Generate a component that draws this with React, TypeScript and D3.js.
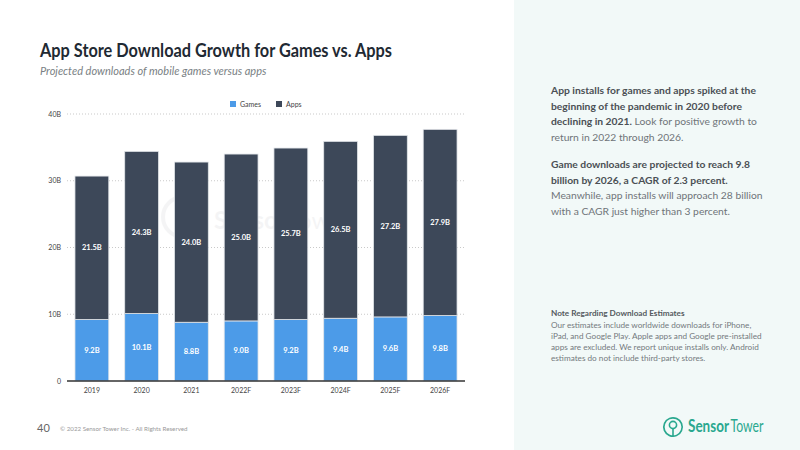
import React from "react";
import * as d3 from "d3";

const years = ["2019", "2020", "2021", "2022F", "2023F", "2024F", "2025F", "2026F"];
const games = [9.2, 10.1, 8.8, 9.0, 9.2, 9.4, 9.6, 9.8];
const apps = [21.5, 24.3, 24.0, 25.0, 25.7, 26.5, 27.2, 27.9];
const yTicks = [0, 10, 20, 30, 40];
const seriesNames = ["Games", "Apps"];
const seriesColors = ["#4c9be8", "#3d4859"];

const sideIntro = [
  [{ t: "App installs for games and apps spiked at the", b: true }],
  [{ t: "beginning of the pandemic in 2020 before", b: true }],
  [{ t: "declining in 2021.", b: true }, { t: " Look for positive growth to", b: false }],
  [{ t: "return in 2022 through 2026.", b: false }],
];
const sideOutlook = [
  [{ t: "Game downloads are projected to reach 9.8", b: true }],
  [{ t: "billion by 2026, a CAGR of 2.3 percent.", b: true }],
  [{ t: "Meanwhile, app installs will approach 28 billion", b: false }],
  [{ t: "with a CAGR just higher than 3 percent.", b: false }],
];
const noteTitle = "Note Regarding Download Estimates";
const noteLines = [
  "Our estimates include worldwide downloads for iPhone,",
  "iPad, and Google Play. Apple apps and Google pre-installed",
  "apps are excluded. We report unique installs only. Android",
  "estimates do not include third-party stores.",
];

const W = 800;
const H = 450;
const FONT = "Lato, 'Noto Sans', sans-serif";
const TEAL = "#2aa88f";

export default function App() {
  const x = d3.scaleBand().domain(years).range([67, 465]).paddingInner(0.32).paddingOuter(0.16);
  const y = d3.scaleLinear().domain([0, 40]).range([381, 114]);

  const rows = years.map((yr, i) => ({ year: yr, games: games[i], apps: apps[i] }));
  const stacked = d3.stack<any>().keys(["games", "apps"])(rows);

  const fmt = (v: number) => `${v.toFixed(1)}B`;

  // open ring of the logo mark, gap at the bottom
  const ring = d3.arc()({ innerRadius: 8.3, outerRadius: 10, startAngle: Math.PI * 0.88, endAngle: Math.PI * 3.12 }) as string;

  const renderLines = (lines: { t: string; b: boolean }[][], y0: number) =>
    lines.map((line, i) => (
      <text key={i} x={551} y={y0 + i * 15.5} fontSize={10.3} fontFamily={FONT}>
        {line.map((s, j) => (
          <tspan key={j} fontWeight={s.b ? 700 : 400} fill={s.b ? "#4b5055" : "#6f7479"}>
            {s.t}
          </tspan>
        ))}
      </text>
    ));

  return (
    <svg
      width={W}
      height={H}
      style={{ display: "block", position: "absolute", left: 0, top: 0 }}
      fontFamily={FONT}
    >
      <rect width={W} height={H} fill="#ffffff" />
      <rect x={514} width={W - 514} height={H} fill="#f2f9f8" />

      {/* title */}
      <text x={40} y={57} fontSize={19} fontWeight={700} fill="#1f2a33" textLength={352} lengthAdjust="spacingAndGlyphs">
        App Store Download Growth for Games vs. Apps
      </text>
      <text x={40} y={75} fontSize={11} fontStyle="italic" fill="#7a7f84">
        Projected downloads of mobile games versus apps
      </text>

      {/* watermark */}
      <g opacity={0.05} fill="#3d4859" stroke="#3d4859">
        <circle cx={183} cy={217} r={20} fill="none" strokeWidth={4} />
        <circle cx={183} cy={212} r={6} fill="none" strokeWidth={3.5} />
        <line x1={183} x2={183} y1={217} y2={232} strokeWidth={3.5} />
        <text x={214} y={229} fontSize={24} stroke="none" fontWeight={700}>
          Sensor<tspan fontWeight={400}>Tower</tspan>
        </text>
      </g>

      {/* grid + y ticks */}
      {yTicks.map((t) => (
        <g key={t}>
          {t > 0 && (
            <line x1={67} x2={465} y1={y(t)} y2={y(t)} stroke="#c9c9c9" strokeWidth={1} strokeDasharray="1 2" />
          )}
          <text x={61} y={y(t) + 2.5} fontSize={7} textAnchor="end" fill="#444">
            {t === 0 ? "0" : `${t}B`}
          </text>
        </g>
      ))}

      {/* legend */}
      {seriesNames.map((n, i) => (
        <g key={n} transform={`translate(${230 + i * 46},101)`}>
          <rect width={6} height={6} fill={seriesColors[i]} />
          <text x={10} y={5.5} fontSize={7} fill="#444">
            {n}
          </text>
        </g>
      ))}

      {/* bars */}
      {stacked.map((s, si) => (
        <g key={s.key}>
          {s.map((d, i) => (
            <g key={i}>
              <rect
                x={x(years[i])}
                y={y(d[1])}
                width={x.bandwidth()}
                height={y(d[0]) - y(d[1])}
                fill={seriesColors[si]}
                stroke="#e3e6ea"
                strokeWidth={0.8}
              />
              <text
                x={(x(years[i]) as number) + x.bandwidth() / 2}
                y={(y(d[0]) + y(d[1])) / 2 + 2.5}
                fontSize={7.5}
                fontWeight={700}
                fill="#ffffff"
                textAnchor="middle"
              >
                {fmt(d[1] - d[0])}
              </text>
            </g>
          ))}
        </g>
      ))}

      {/* x axis */}
      <line x1={67} x2={465} y1={381} y2={381} stroke="#333" strokeWidth={1.5} />
      {years.map((yr) => (
        <text
          key={yr}
          x={(x(yr) as number) + x.bandwidth() / 2}
          y={393}
          fontSize={7}
          textAnchor="middle"
          fill="#444"
        >
          {yr}
        </text>
      ))}

      {/* side notes */}
      {renderLines(sideIntro, 94)}
      {renderLines(sideOutlook, 168)}
      <text x={551} y={316} fontSize={8.2} fontWeight={700} fill="#55595e">
        {noteTitle}
      </text>
      {noteLines.map((l, i) => (
        <text key={i} x={551} y={327.5 + i * 11} fontSize={8.2} fill="#74797e">
          {l}
        </text>
      ))}

      {/* footer */}
      <text x={37} y={432} fontSize={11} fill="#666">
        40
      </text>
      <text x={60} y={431} fontSize={6.2} fill="#999">
        © 2022 Sensor Tower Inc. - All Rights Reserved
      </text>

      {/* logo */}
      <g transform="translate(673,427)">
        <path d={ring} fill={TEAL} />
        <circle cy={-2} r={3.6} fill="none" stroke={TEAL} strokeWidth={1.6} />
        <line y1={1.6} y2={9.5} stroke={TEAL} strokeWidth={1.6} />
      </g>
      <text x={688} y={432} fontSize={16.5} fontWeight={700} fill={TEAL} textLength={41} lengthAdjust="spacingAndGlyphs">
        Sensor
      </text>
      <text x={730.5} y={432} fontSize={16.5} fill={TEAL} textLength={33} lengthAdjust="spacingAndGlyphs">
        Tower
      </text>
    </svg>
  );
}
